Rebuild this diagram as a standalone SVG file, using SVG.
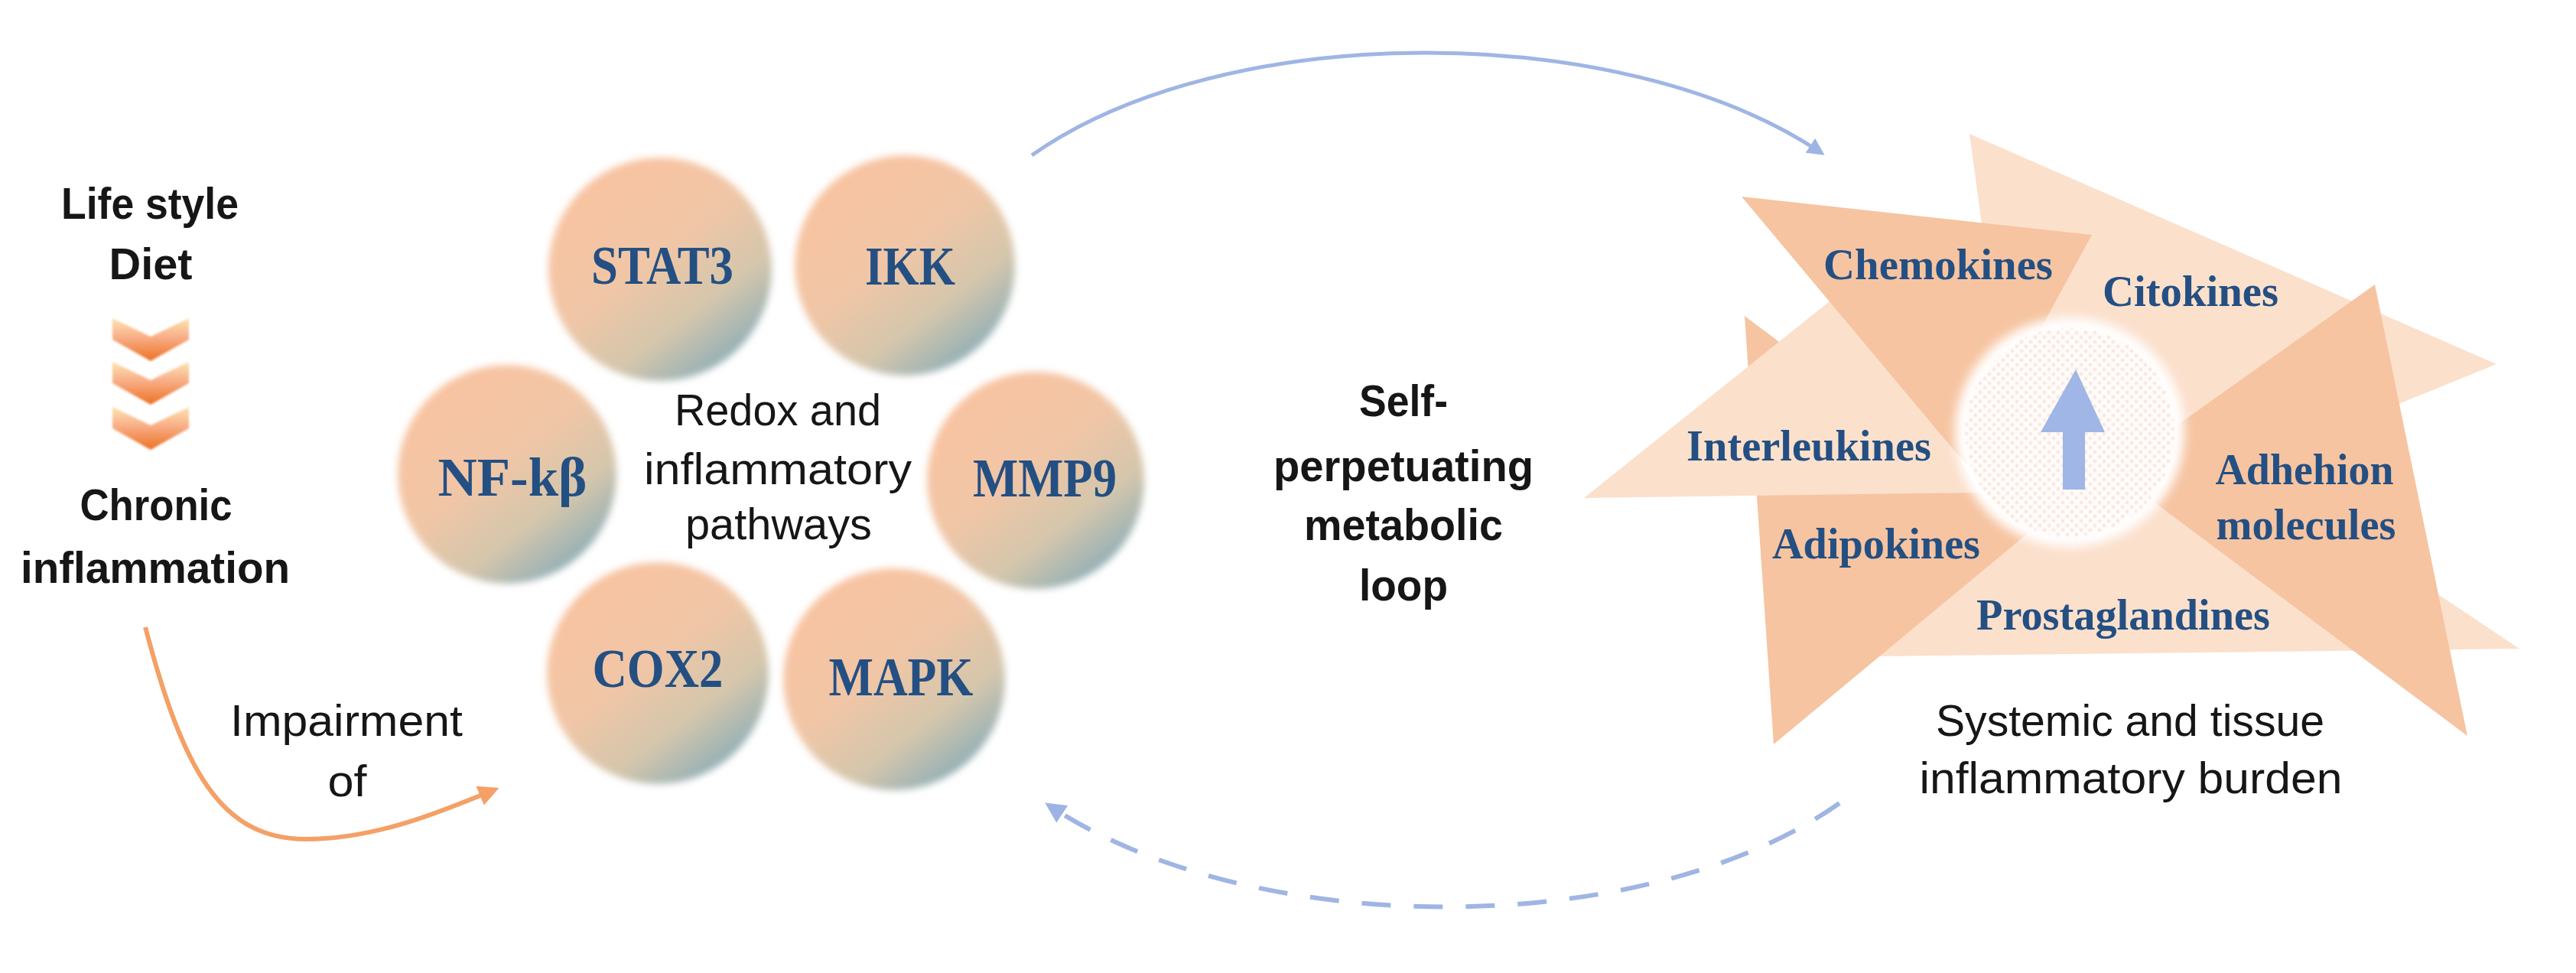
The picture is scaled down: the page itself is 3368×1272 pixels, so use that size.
<svg xmlns="http://www.w3.org/2000/svg" width="3368" height="1272" viewBox="0 0 3368 1272">
<defs>
<style>
.sb{font-family:"Liberation Sans",Arial,sans-serif;font-weight:bold;font-size:58px;fill:#161616;text-anchor:middle}
.sr{font-family:"Liberation Sans",Arial,sans-serif;font-size:58px;fill:#161616;text-anchor:middle}
.cl{font-family:"Liberation Serif","Times New Roman",serif;font-weight:bold;font-size:72px;fill:#244f82;text-anchor:middle}
.tl{font-family:"Liberation Serif","Times New Roman",serif;font-weight:bold;font-size:57px;fill:#244f82;text-anchor:middle}
.dk{fill:#f6c4a1}
.lt{fill:#fbe0cc}
.node{fill:url(#cg);filter:url(#soft)}
.chev{fill:url(#chev);filter:url(#soft2)}
</style>
<linearGradient id="cg" x1="0.2" y1="0.1" x2="0.85" y2="0.95">
<stop offset="0" stop-color="#f8c3a1"/>
<stop offset="0.4" stop-color="#f1c6a6"/>
<stop offset="0.7" stop-color="#d4c6ac"/>
<stop offset="1" stop-color="#84aab8"/>
</linearGradient>
<linearGradient id="chev" x1="0" y1="0" x2="0" y2="1">
<stop offset="0" stop-color="#fde4b2"/>
<stop offset="0.45" stop-color="#f8ad86"/>
<stop offset="1" stop-color="#ec7122"/>
</linearGradient>
<pattern id="dots" width="12" height="12" patternUnits="userSpaceOnUse">
<rect width="12" height="12" fill="#fffdfb"/>
<circle cx="3" cy="3" r="1.4" fill="#e3a894"/>
<circle cx="9" cy="9" r="1.4" fill="#e3a894"/>
</pattern>
<filter id="soft" x="-10%" y="-10%" width="120%" height="120%"><feGaussianBlur stdDeviation="5"/></filter>
<filter id="soft2" x="-10%" y="-10%" width="120%" height="120%"><feGaussianBlur stdDeviation="1.5"/></filter>
<filter id="halo" x="-20%" y="-20%" width="140%" height="140%"><feGaussianBlur stdDeviation="7"/></filter>
<marker id="ab" viewBox="0 0 10 10" refX="7" refY="5" markerWidth="4.5" markerHeight="4.5" orient="auto"><path d="M0,0 L10,5 L0,10 z" fill="#9db4e4"/></marker>
<marker id="ao" viewBox="0 0 10 10" refX="7" refY="5" markerWidth="4.5" markerHeight="4.5" orient="auto"><path d="M0,0 L10,5 L0,10 z" fill="#f4a066"/></marker>
</defs>
<rect width="3368" height="1272" fill="#ffffff"/>

<g id="connectors" fill="none">
<path d="M1349,203 C1600,25 2120,25 2380,199" stroke="#9fb5e4" stroke-width="5" marker-end="url(#ab)"/>
<path d="M2405,1050 C2150,1230 1640,1230 1373,1054" stroke="#9fb5e4" stroke-width="6" stroke-dasharray="38 30" marker-end="url(#ab)"/>
<path d="M190,820 C240,1010 290,1097 400,1097 C490,1097 575,1062 645,1033" stroke="#f4a066" stroke-width="6" marker-end="url(#ao)"/>
</g>

<g id="lifestyle">
<text class="sb" x="196" y="286" textLength="232" lengthAdjust="spacingAndGlyphs">Life style</text>
<text class="sb" x="197" y="365" textLength="109" lengthAdjust="spacingAndGlyphs">Diet</text>
</g>

<g id="chevrons">
<polygon class="chev" points="147,416 197,440 247,416 247,444 197,472 147,444"/>
<polygon class="chev" points="147,473 197,497 247,473 247,501 197,529 147,501"/>
<polygon class="chev" points="147,532 197,556 247,532 247,560 197,588 147,560"/>
</g>

<g id="chronic">
<text class="sb" x="204" y="680" textLength="199" lengthAdjust="spacingAndGlyphs">Chronic</text>
<text class="sb" x="203" y="762" textLength="352" lengthAdjust="spacingAndGlyphs">inflammation</text>
</g>

<g id="impairment">
<text class="sr" x="453" y="962" textLength="304" lengthAdjust="spacingAndGlyphs">Impairment</text>
<text class="sr" x="454" y="1041" textLength="51" lengthAdjust="spacingAndGlyphs">of</text>
</g>

<g id="stat3">
<circle class="node" cx="863" cy="352" r="146"/>
<text class="cl" x="866" y="371" textLength="186" lengthAdjust="spacingAndGlyphs">STAT3</text>
</g>
<g id="ikk">
<circle class="node" cx="1183" cy="347" r="144"/>
<text class="cl" x="1190" y="372" textLength="118" lengthAdjust="spacingAndGlyphs">IKK</text>
</g>
<g id="nfkb">
<circle class="node" cx="663" cy="620" r="143"/>
<text class="cl" x="670" y="648" textLength="195" lengthAdjust="spacingAndGlyphs">NF-kβ</text>
</g>
<g id="mmp9">
<circle class="node" cx="1354" cy="628" r="142"/>
<text class="cl" x="1366" y="649" textLength="188" lengthAdjust="spacingAndGlyphs">MMP9</text>
</g>
<g id="cox2">
<circle class="node" cx="860" cy="880" r="145"/>
<text class="cl" x="860" y="898" textLength="171" lengthAdjust="spacingAndGlyphs">COX2</text>
</g>
<g id="mapk">
<circle class="node" cx="1169" cy="888" r="145"/>
<text class="cl" x="1178" y="909" textLength="189" lengthAdjust="spacingAndGlyphs">MAPK</text>
</g>

<g id="redox">
<text class="sr" x="1017" y="556" textLength="270" lengthAdjust="spacingAndGlyphs">Redox and</text>
<text class="sr" x="1017" y="633" textLength="350" lengthAdjust="spacingAndGlyphs">inflammatory</text>
<text class="sr" x="1018" y="705" textLength="244" lengthAdjust="spacingAndGlyphs">pathways</text>
</g>

<g id="loop">
<text class="sb" x="1835" y="544" textLength="116" lengthAdjust="spacingAndGlyphs">Self-</text>
<text class="sb" x="1835" y="629" textLength="340" lengthAdjust="spacingAndGlyphs">perpetuating</text>
<text class="sb" x="1835" y="706" textLength="260" lengthAdjust="spacingAndGlyphs">metabolic</text>
<text class="sb" x="1835" y="785" textLength="116" lengthAdjust="spacingAndGlyphs">loop</text>
</g>

<g id="burden-shapes">
<polygon class="lt" points="2575,175 3264,476 2650,726"/>
<polygon class="lt" points="2453,858 3294,848 2806,522"/>
<polygon class="dk" points="2281,413 2319,973 2655,694"/>
<polygon class="lt" points="2071,651 2428,365 2588,644"/>
<polygon class="dk" points="2277,257 2735,307 2571,608"/>
<polygon class="dk" points="3105,372 3226,962 2762,616"/>
<circle cx="2706" cy="565" r="150" fill="#ffffff" filter="url(#halo)"/>
<circle cx="2706" cy="565" r="136" fill="url(#dots)" filter="url(#soft2)"/>
<polygon points="2714,483 2752,565 2726,565 2726,640 2697,640 2697,565 2668,565" fill="#9fb6e6"/>
</g>

<g id="mediators">
<text class="tl" x="2534" y="365" textLength="300" lengthAdjust="spacingAndGlyphs">Chemokines</text>
<text class="tl" x="2864" y="400" textLength="230" lengthAdjust="spacingAndGlyphs">Citokines</text>
<text class="tl" x="2365" y="602" textLength="320" lengthAdjust="spacingAndGlyphs">Interleukines</text>
<text class="tl" x="3013" y="633" textLength="233" lengthAdjust="spacingAndGlyphs">Adhehion</text>
<text class="tl" x="3015" y="705" textLength="235" lengthAdjust="spacingAndGlyphs">molecules</text>
<text class="tl" x="2453" y="730" textLength="272" lengthAdjust="spacingAndGlyphs">Adipokines</text>
<text class="tl" x="2776" y="823" textLength="384" lengthAdjust="spacingAndGlyphs">Prostaglandines</text>
</g>

<g id="burden-label">
<text class="sr" x="2785" y="962" textLength="508" lengthAdjust="spacingAndGlyphs">Systemic and tissue</text>
<text class="sr" x="2786" y="1037" textLength="553" lengthAdjust="spacingAndGlyphs">inflammatory burden</text>
</g>
</svg>
